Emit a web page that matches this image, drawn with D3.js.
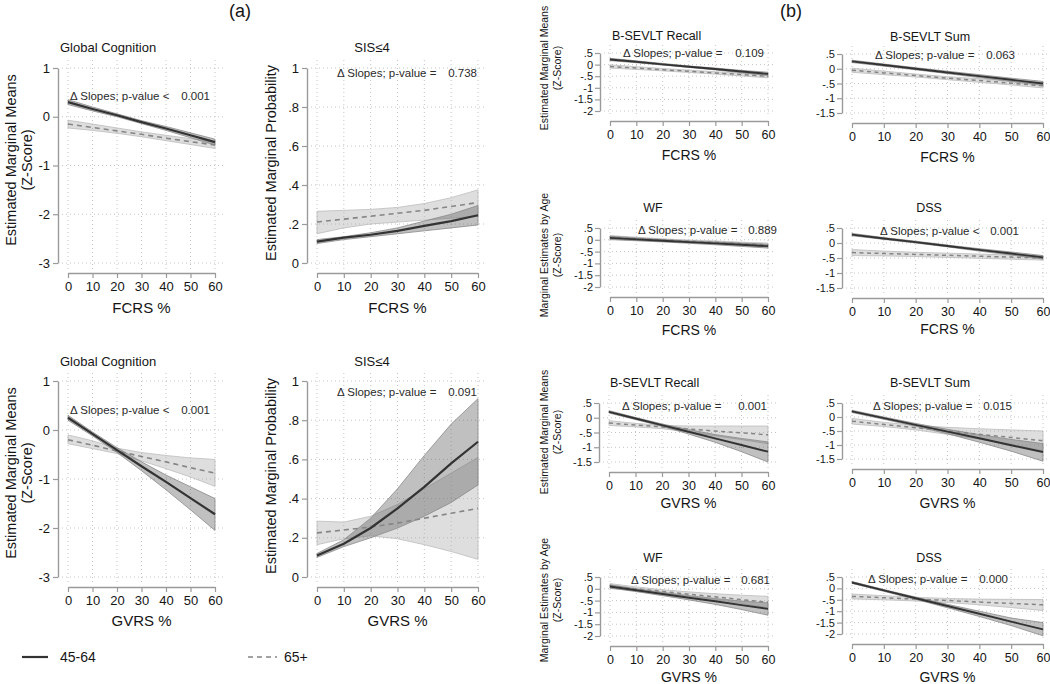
<!DOCTYPE html>
<html>
<head>
<meta charset="utf-8">
<script src="https://cdn.jsdelivr.net/npm/d3@7"></script>
<style>
  html, body { margin: 0; padding: 0; background: #fff; }
  svg { display: block; font-family: "Liberation Sans", Arial, Helvetica, sans-serif; }
</style>
</head>
<body>
<script>
// ---------------- DATA ----------------
const xVals = [0, 10, 20, 30, 40, 50, 60];
const groups = ["45-64", "65+"];

const yTicksZ = [1, 0, -1, -2, -3];
const yTicksProb = [1, 0.8, 0.6, 0.4, 0.2, 0];
const yTicksB25 = [0.5, 0, -0.5, -1, -1.5, -2];
const yTicksB20 = [0.5, 0, -0.5, -1, -1.5];

const panelTitles = ["Global Cognition", "SIS≤4", "Global Cognition", "SIS≤4",
  "B-SEVLT Recall", "B-SEVLT Sum", "WF", "DSS", "B-SEVLT Recall", "B-SEVLT Sum", "WF", "DSS"];
const pSigns = ["<", "=", "<", "=", "=", "=", "=", "<", "=", "=", "=", "="];
const pValues = ["0.001", "0.738", "0.001", "0.091", "0.109", "0.063", "0.889", "0.001", "0.001", "0.015", "0.681", "0.000"];

// (a) Global cognition ~ FCRS
const gcFcrsYoung = { fit: [0.30, 0.16, 0.03, -0.11, -0.24, -0.38, -0.52], lo: [0.25, 0.12, 0.00, -0.14, -0.28, -0.43, -0.58], hi: [0.35, 0.20, 0.06, -0.08, -0.20, -0.33, -0.46] };
const gcFcrsOld   = { fit: [-0.15, -0.22, -0.29, -0.36, -0.44, -0.51, -0.58], lo: [-0.23, -0.28, -0.34, -0.41, -0.49, -0.57, -0.65], hi: [-0.07, -0.15, -0.23, -0.31, -0.38, -0.45, -0.51] };
// (a) SIS<=4 ~ FCRS
const sisFcrsYoung = { fit: [0.11, 0.13, 0.145, 0.165, 0.19, 0.215, 0.245], lo: [0.10, 0.12, 0.135, 0.15, 0.165, 0.18, 0.195], hi: [0.12, 0.135, 0.155, 0.18, 0.215, 0.25, 0.295] };
const sisFcrsOld   = { fit: [0.21, 0.225, 0.24, 0.255, 0.27, 0.29, 0.31], lo: [0.15, 0.18, 0.20, 0.21, 0.22, 0.23, 0.24], hi: [0.265, 0.27, 0.275, 0.285, 0.305, 0.335, 0.375] };
// (a) Global cognition ~ GVRS
const gcGvrsYoung = { fit: [0.25, -0.08, -0.41, -0.74, -1.06, -1.39, -1.72], lo: [0.20, -0.12, -0.46, -0.83, -1.22, -1.63, -2.05], hi: [0.30, -0.04, -0.36, -0.65, -0.92, -1.16, -1.40] };
const gcGvrsOld   = { fit: [-0.20, -0.31, -0.43, -0.54, -0.65, -0.77, -0.88], lo: [-0.28, -0.38, -0.48, -0.63, -0.79, -0.96, -1.15], hi: [-0.10, -0.22, -0.37, -0.46, -0.52, -0.57, -0.60] };
// (a) SIS<=4 ~ GVRS
const sisGvrsYoung = { fit: [0.11, 0.17, 0.25, 0.35, 0.46, 0.58, 0.69], lo: [0.10, 0.155, 0.20, 0.25, 0.31, 0.38, 0.47], hi: [0.12, 0.19, 0.30, 0.45, 0.62, 0.78, 0.91] };
const sisGvrsOld   = { fit: [0.225, 0.24, 0.255, 0.275, 0.30, 0.325, 0.35], lo: [0.165, 0.195, 0.21, 0.195, 0.165, 0.13, 0.09], hi: [0.285, 0.28, 0.31, 0.37, 0.45, 0.53, 0.61] };

// (b) FCRS
const recFcrsYoung = { fit: [0.22, 0.12, 0.01, -0.09, -0.19, -0.30, -0.40], lo: [0.17, 0.08, -0.02, -0.12, -0.23, -0.35, -0.47], hi: [0.27, 0.16, 0.05, -0.06, -0.15, -0.25, -0.33] };
const recFcrsOld   = { fit: [-0.08, -0.15, -0.22, -0.29, -0.36, -0.43, -0.50], lo: [-0.15, -0.21, -0.27, -0.34, -0.41, -0.49, -0.57], hi: [-0.01, -0.09, -0.17, -0.24, -0.31, -0.37, -0.43] };
const sumFcrsYoung = { fit: [0.25, 0.125, 0.0, -0.125, -0.25, -0.375, -0.50], lo: [0.21, 0.09, -0.035, -0.165, -0.30, -0.43, -0.57], hi: [0.29, 0.16, 0.035, -0.085, -0.20, -0.32, -0.43] };
const sumFcrsOld   = { fit: [-0.05, -0.14, -0.23, -0.32, -0.40, -0.49, -0.58], lo: [-0.12, -0.20, -0.28, -0.37, -0.46, -0.55, -0.65], hi: [0.02, -0.08, -0.18, -0.27, -0.34, -0.43, -0.51] };
const wfFcrsYoung  = { fit: [0.08, 0.02, -0.04, -0.10, -0.15, -0.21, -0.27], lo: [0.01, -0.04, -0.09, -0.15, -0.21, -0.28, -0.35], hi: [0.15, 0.08, 0.01, -0.05, -0.09, -0.14, -0.19] };
const wfFcrsOld    = { fit: [0.10, 0.045, -0.01, -0.06, -0.11, -0.165, -0.22], lo: [0.02, -0.02, -0.06, -0.11, -0.17, -0.23, -0.30], hi: [0.18, 0.11, 0.04, -0.01, -0.05, -0.10, -0.14] };
const dssFcrsYoung = { fit: [0.28, 0.15, 0.03, -0.10, -0.23, -0.35, -0.48], lo: [0.24, 0.12, 0.00, -0.13, -0.27, -0.40, -0.54], hi: [0.32, 0.18, 0.06, -0.07, -0.19, -0.30, -0.42] };
const dssFcrsOld   = { fit: [-0.32, -0.35, -0.38, -0.41, -0.44, -0.47, -0.50], lo: [-0.42, -0.43, -0.45, -0.48, -0.51, -0.54, -0.57], hi: [-0.22, -0.27, -0.31, -0.34, -0.37, -0.40, -0.43] };

// (b) GVRS
const recGvrsYoung = { fit: [0.20, -0.025, -0.25, -0.475, -0.70, -0.925, -1.15], lo: [0.16, -0.06, -0.29, -0.55, -0.83, -1.15, -1.50], hi: [0.24, 0.01, -0.21, -0.40, -0.57, -0.70, -0.82] };
const recGvrsOld   = { fit: [-0.18, -0.25, -0.31, -0.38, -0.45, -0.51, -0.58], lo: [-0.26, -0.31, -0.37, -0.48, -0.61, -0.74, -0.88], hi: [-0.10, -0.19, -0.26, -0.28, -0.28, -0.28, -0.28] };
const sumGvrsYoung = { fit: [0.20, -0.04, -0.28, -0.52, -0.76, -1.01, -1.25], lo: [0.16, -0.08, -0.33, -0.60, -0.90, -1.22, -1.58], hi: [0.24, 0.00, -0.23, -0.44, -0.63, -0.80, -0.95] };
const sumGvrsOld   = { fit: [-0.15, -0.27, -0.38, -0.50, -0.62, -0.73, -0.85], lo: [-0.25, -0.34, -0.46, -0.62, -0.79, -0.98, -1.20], hi: [-0.05, -0.19, -0.30, -0.37, -0.42, -0.46, -0.50] };
const wfGvrsYoung  = { fit: [0.10, -0.06, -0.22, -0.38, -0.53, -0.69, -0.85], lo: [0.03, -0.12, -0.29, -0.47, -0.66, -0.88, -1.12], hi: [0.17, 0.00, -0.15, -0.29, -0.41, -0.52, -0.60] };
const wfGvrsOld    = { fit: [0.12, 0.00, -0.11, -0.23, -0.34, -0.46, -0.57], lo: [0.02, -0.08, -0.19, -0.32, -0.46, -0.62, -0.80], hi: [0.22, 0.08, -0.04, -0.13, -0.21, -0.27, -0.32] };
const dssGvrsYoung = { fit: [0.26, -0.09, -0.43, -0.77, -1.11, -1.46, -1.80], lo: [0.22, -0.13, -0.48, -0.85, -1.23, -1.63, -2.08], hi: [0.30, -0.05, -0.38, -0.70, -1.00, -1.30, -1.50] };
const dssGvrsOld   = { fit: [-0.35, -0.41, -0.47, -0.53, -0.60, -0.66, -0.72], lo: [-0.46, -0.50, -0.55, -0.62, -0.72, -0.84, -0.97], hi: [-0.25, -0.32, -0.39, -0.44, -0.47, -0.48, -0.49] };

// ---------------- LAYOUT ----------------
const W = 1050, H = 684;
const svg = d3.select("body").append("svg").attr("width", W).attr("height", H);

const yT_A = ["Estimated Marginal Means", "(Z-Score)"];
const yT_P = ["Estimated Marginal Probability"];
const yT_M = ["Estimated Marginal Means", "(Z-Score)"];
const yT_E = ["Marginal Estimates by Age", "(Z-Score)"];

const panels = [
  // left (a)
  { young: gcFcrsYoung, old: gcFcrsOld, yTicks: yTicksZ, x0: 68, x1: 215, yTop: 68, yBot: 263, big: true,
    tx: 60, ty: 52, tAnchor: "start", ax0: 70, ax1: 210, ay: 100, xt: "FCRS %", xty: 313,
    yTitle: yT_A, ytx: [11, 27], yty: 160, ytSize: 14.5 },
  { young: sisFcrsYoung, old: sisFcrsOld, yTicks: yTicksProb, x0: 317, x1: 478, yTop: 68, yBot: 263, big: true,
    tx: 372, ty: 52, tAnchor: "middle", ax0: 337, ax1: 477, ay: 77, xt: "FCRS %", xty: 313,
    yTitle: yT_P, ytx: [271], yty: 163, ytSize: 14.5 },
  { young: gcGvrsYoung, old: gcGvrsOld, yTicks: yTicksZ, x0: 68, x1: 215, yTop: 381, yBot: 577, big: true,
    tx: 60, ty: 366, tAnchor: "start", ax0: 70, ax1: 210, ay: 414, xt: "GVRS %", xty: 626,
    yTitle: yT_A, ytx: [11, 27], yty: 473, ytSize: 14.5 },
  { young: sisGvrsYoung, old: sisGvrsOld, yTicks: yTicksProb, x0: 317, x1: 478, yTop: 381, yBot: 577, big: true,
    tx: 372, ty: 366, tAnchor: "middle", ax0: 337, ax1: 477, ay: 396, xt: "GVRS %", xty: 626,
    yTitle: yT_P, ytx: [271], yty: 476, ytSize: 14.5 },
  // right (b)
  { young: recFcrsYoung, old: recFcrsOld, yTicks: yTicksB25, x0: 610, x1: 768, yTop: 53, yBot: 111,
    tx: 612, ty: 40, tAnchor: "start", ax0: 623, ax1: 764, ay: 57, xt: "FCRS %", xty: 160,
    yTitle: yT_M, ytx: [544, 557], yty: 68, ytSize: 10.5 },
  { young: sumFcrsYoung, old: sumFcrsOld, yTicks: yTicksB20, x0: 852, x1: 1043, yTop: 54, yBot: 113,
    tx: 930, ty: 41, tAnchor: "middle", ax0: 875, ax1: 1015, ay: 59, xt: "FCRS %", xty: 162 },
  { young: wfFcrsYoung, old: wfFcrsOld, yTicks: yTicksB25, x0: 610, x1: 768, yTop: 228, yBot: 287,
    tx: 653, ty: 212, tAnchor: "middle", ax0: 638, ax1: 777, ay: 234, xt: "FCRS %", xty: 335,
    yTitle: yT_E, ytx: [544, 557], yty: 255, ytSize: 10.5 },
  { young: dssFcrsYoung, old: dssFcrsOld, yTicks: yTicksB20, x0: 852, x1: 1043, yTop: 228, yBot: 288,
    tx: 929, ty: 212, tAnchor: "middle", ax0: 880, ax1: 1019, ay: 235, xt: "FCRS %", xty: 334 },
  { young: recGvrsYoung, old: recGvrsOld, yTicks: yTicksB20, x0: 609, x1: 768, yTop: 403, yBot: 462,
    tx: 610, ty: 387, tAnchor: "start", ax0: 622, ax1: 767, ay: 410, xt: "GVRS %", xty: 508,
    yTitle: yT_M, ytx: [544, 557], yty: 432, ytSize: 10.5 },
  { young: sumGvrsYoung, old: sumGvrsOld, yTicks: yTicksB20, x0: 852, x1: 1043, yTop: 403, yBot: 459,
    tx: 930, ty: 387, tAnchor: "middle", ax0: 873, ax1: 1012, ay: 410, xt: "GVRS %", xty: 508 },
  { young: wfGvrsYoung, old: wfGvrsOld, yTicks: yTicksB25, x0: 610, x1: 768, yTop: 577, yBot: 636,
    tx: 653, ty: 562, tAnchor: "middle", ax0: 631, ax1: 770, ay: 584, xt: "GVRS %", xty: 682,
    yTitle: yT_E, ytx: [544, 557], yty: 600, ytSize: 10.5 },
  { young: dssGvrsYoung, old: dssGvrsOld, yTicks: yTicksB25, x0: 852, x1: 1043, yTop: 577, yBot: 634,
    tx: 929, ty: 562, tAnchor: "middle", ax0: 868, ax1: 1008, ay: 583, xt: "GVRS %", xty: 682 }
];

function fmt(v) {
  if (v === 0) return "0";
  return String(v).replace(/^0\./, ".").replace(/^-0\./, "-.");
}

const TXT = "#151515";
const AX = "#9a9a9a";
const GRID = "#c4c4c4";

panels.forEach((p, i) => {
  const g = svg.append("g");
  const yMin = d3.min(p.yTicks), yMax = d3.max(p.yTicks);
  const x = d3.scaleLinear().domain([0, 60]).range([p.x0, p.x1]);
  const y = d3.scaleLinear().domain([yMin, yMax]).range([p.yBot, p.yTop]);

  // grid
  g.selectAll(".hg").data(p.yTicks).join("line")
    .attr("x1", p.x0 - 6).attr("x2", p.x1 + 8)
    .attr("y1", d => y(d)).attr("y2", d => y(d))
    .attr("stroke", GRID).attr("stroke-width", 1).attr("stroke-dasharray", "1,3");
  g.selectAll(".vg").data(xVals).join("line")
    .attr("x1", d => x(d)).attr("x2", d => x(d))
    .attr("y1", p.yTop - 8).attr("y2", p.yBot + 6)
    .attr("stroke", GRID).attr("stroke-width", 1).attr("stroke-dasharray", "1,3");

  const area = s => d3.area().x((d, k) => x(xVals[k])).y0((d, k) => y(s.lo[k])).y1((d, k) => y(s.hi[k]))(xVals);
  const line = arr => d3.line().x((d, k) => x(xVals[k])).y((d, k) => y(arr[k]))(xVals);

  // bands
  g.append("path").attr("d", area(p.old)).attr("fill", "#a8a8a8").attr("fill-opacity", 0.38)
    .attr("stroke", "#bdbdbd").attr("stroke-width", 0.8);
  g.append("path").attr("d", area(p.young)).attr("fill", "#5a5a5a").attr("fill-opacity", 0.38)
    .attr("stroke", "#8a8a8a").attr("stroke-width", 0.8);

  // lines
  g.append("path").attr("d", line(p.old.fit)).attr("fill", "none")
    .attr("stroke", "#858585").attr("stroke-width", p.big ? 1.6 : 1.5).attr("stroke-dasharray", p.big ? "5,4" : "4,3.5");
  g.append("path").attr("d", line(p.young.fit)).attr("fill", "none")
    .attr("stroke", "#333").attr("stroke-width", p.big ? 2.2 : 1.9);

  // axes
  const fsy = p.big ? 13 : 11;
  const fsx = p.big ? 13 : 12.5;
  const ya = d3.axisLeft(y).tickValues(p.yTicks).tickFormat(fmt).tickSize(5).tickSizeOuter(0).tickPadding(p.big ? 3 : 2);
  const yg = g.append("g").attr("transform", `translate(${p.x0 - 10},0)`).call(ya);
  const xa = d3.axisBottom(x).tickValues(xVals).tickFormat(d3.format("d")).tickSize(5).tickSizeOuter(0).tickPadding(4);
  const xg = g.append("g").attr("transform", `translate(0,${p.yBot + 10})`).call(xa);
  [[yg, fsy], [xg, fsx]].forEach(([a, fs]) => {
    a.select(".domain").attr("stroke", AX).attr("stroke-width", 1.4);
    a.selectAll(".tick line").attr("stroke", AX).attr("stroke-width", 1.2);
    a.selectAll(".tick text").attr("fill", TXT).attr("font-size", fs)
      .attr("font-family", "'Liberation Sans', Arial, sans-serif");
  });

  // title
  g.append("text").attr("x", p.tx).attr("y", p.ty).attr("text-anchor", p.tAnchor)
    .attr("font-size", p.big ? 13 : 12.5).attr("fill", TXT).text(panelTitles[i]);

  // annotation
  g.append("text").attr("x", p.ax0).attr("y", p.ay).attr("font-size", 11.5).attr("fill", "#2a2a2a")
    .text("\u0394 Slopes; p-value " + pSigns[i]);
  g.append("text").attr("x", p.ax1).attr("y", p.ay).attr("text-anchor", "end").attr("font-size", 11.5).attr("fill", "#2a2a2a")
    .text(pValues[i]);

  // x title
  g.append("text").attr("x", (p.x0 + p.x1) / 2).attr("y", p.xty).attr("text-anchor", "middle")
    .attr("font-size", p.big ? 15 : 14).attr("fill", TXT).text(p.xt);

  // y title
  if (p.yTitle) {
    p.yTitle.forEach((t, k) => {
      g.append("text").attr("transform", `translate(${p.ytx[k]},${p.yty}) rotate(-90)`)
        .attr("text-anchor", "middle").attr("dy", "0.35em")
        .attr("font-size", p.ytSize).attr("fill", TXT).text(t);
    });
  }
});

// section labels
svg.append("text").attr("x", 240).attr("y", 17).attr("text-anchor", "middle").attr("font-size", 18).attr("fill", TXT).text("(a)");
svg.append("text").attr("x", 791).attr("y", 17).attr("text-anchor", "middle").attr("font-size", 18).attr("fill", TXT).text("(b)");

// legend
const leg = svg.append("g");
const legItems = [
  { x1: 22, x2: 48, tx: 60, stroke: "#333", w: 2.2, dash: null },
  { x1: 248, x2: 277, tx: 284, stroke: "#858585", w: 1.6, dash: "5,4" }
];
legItems.forEach((l, k) => {
  leg.append("line").attr("x1", l.x1).attr("x2", l.x2).attr("y1", 657).attr("y2", 657)
    .attr("stroke", l.stroke).attr("stroke-width", l.w).attr("stroke-dasharray", l.dash);
  leg.append("text").attr("x", l.tx).attr("y", 662).attr("font-size", 14).attr("fill", TXT).text(groups[k]);
});
</script>
</body>
</html>
